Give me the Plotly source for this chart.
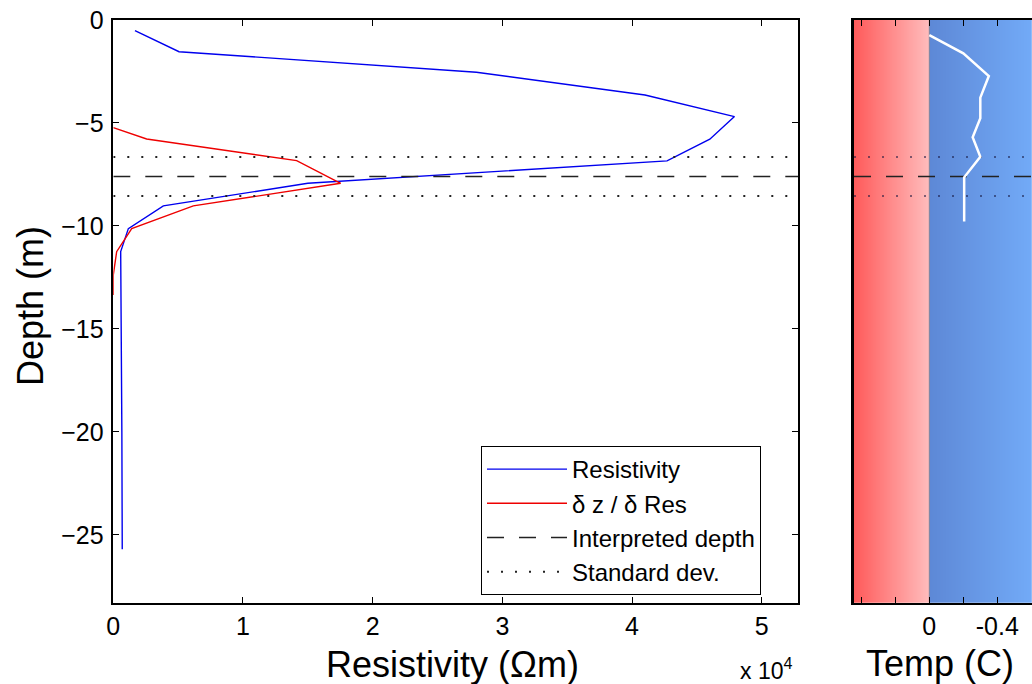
import numpy as np
import plotly.graph_objects as go

# ---------------- data ----------------
res_depth = [-0.52, -1.54, -2.54, -3.64, -4.69, -5.79, -6.84, -7.93, -9.03, -10.13, -11.25, -15.0, -20.0, -25.7]
res_value = [1670, 5070, 28000, 41000, 47900, 46000, 42700, 15000, 3860, 1160, 570, 620, 660, 690]

drv_depth = [-5.23, -5.78, -6.83, -7.93, -9.03, -10.13, -11.25, -12.38, -13.35]
drv_value = [0, 2570, 14140, 17530, 6170, 1420, 260, 0, 0]

temp_depth = [-0.73, -1.62, -2.72, -3.77, -4.77, -5.69, -6.64, -7.64, -9.79]
temp_value = [0.0, -0.20, -0.35, -0.30, -0.30, -0.255, -0.30, -0.205, -0.205]

interp_depth = -7.6
std_depths = [-6.65, -8.55]

res_range = [0, 52800]
depth_range = [-28.3, 0]
temp_range = [0.443, -0.604]

res_tickvals = [0, 10000, 20000, 30000, 40000, 50000]
res_ticktext = ["0", "1", "2", "3", "4", "5"]
depth_tickvals = [0, -5, -10, -15, -20, -25]
temp_tickvals = [0.4, 0.2, 0.0, -0.2, -0.4, -0.6]
temp_ticktext = ["", "", "0", "", "-0.4", ""]

W, H = 1032, 684
FONT = "Arial, Liberation Sans, sans-serif"

fig = go.Figure()

# -------- right panel background gradient --------
xs = np.linspace(temp_range[0], temp_range[1], 400)
f0 = (temp_range[0] - 0) / (temp_range[0] - temp_range[1])
zrow = (temp_range[0] - xs) / (temp_range[0] - temp_range[1])
fig.add_trace(go.Heatmap(
    x=xs, y=[depth_range[0] - 1, depth_range[1] + 1], z=[zrow, zrow],
    colorscale=[[0, "#ff5a5a"], [f0, "#ffbcbc"], [f0 + 1e-6, "#5d88d6"], [1, "#72aaf7"]],
    zmin=0, zmax=1, showscale=False, hoverinfo="skip",
    xaxis="x2", yaxis="y2",
))
# zero line in right panel
fig.add_trace(go.Scatter(x=[0, 0], y=depth_range, mode="lines",
                         line=dict(color="#8a8a9a", width=1), showlegend=False,
                         hoverinfo="skip", xaxis="x2", yaxis="y2"))

# -------- left panel --------
fig.add_trace(go.Scatter(x=res_value, y=res_depth, mode="lines", name="Resistivity",
                         line=dict(color="#0000ee", width=1.4)))
fig.add_trace(go.Scatter(x=drv_value, y=drv_depth, mode="lines", name="δ z / δ Res",
                         line=dict(color="#ee0000", width=1.4)))
fig.add_trace(go.Scatter(x=res_range, y=[interp_depth, interp_depth], mode="lines",
                         name="Interpreted depth",
                         line=dict(color="#222222", width=1.5, dash="17px,15px")))
for i, d in enumerate(std_depths):
    fig.add_trace(go.Scatter(x=res_range, y=[d, d], mode="lines", name="Standard dev.",
                             showlegend=(i == 0),
                             line=dict(color="#222222", width=2, dash="2px,12px")))

# -------- right panel lines --------
fig.add_trace(go.Scatter(x=temp_range, y=[interp_depth, interp_depth], mode="lines",
                         showlegend=False, line=dict(color="#222222", width=1.5, dash="17px,15px"),
                         xaxis="x2", yaxis="y2"))
for d in std_depths:
    fig.add_trace(go.Scatter(x=temp_range, y=[d, d], mode="lines", showlegend=False,
                             line=dict(color="rgba(20,20,60,0.55)", width=2, dash="2px,12px"),
                             xaxis="x2", yaxis="y2"))
fig.add_trace(go.Scatter(x=temp_value, y=temp_depth, mode="lines", showlegend=False,
                         line=dict(color="white", width=2.5), xaxis="x2", yaxis="y2"))

ydom = [1 - 602.7 / H, 1 - 20 / H]
axis_common = dict(showline=True, linecolor="black", ticks="inside", ticklen=6,
                   tickcolor="black", mirror="ticks", showgrid=False, zeroline=False,
                   automargin=False,
                   tickfont=dict(family=FONT, size=25, color="black"))

fig.update_layout(
    width=W, height=H,
    margin=dict(l=0, r=0, t=0, b=0, pad=0),
    paper_bgcolor="white", plot_bgcolor="white",
    font=dict(family=FONT, color="black"),
    xaxis=dict(domain=[113.3 / W, 798 / W], range=res_range, tickvals=res_tickvals,
               ticktext=res_ticktext, linewidth=1.5, ticklabelstandoff=1, **axis_common),
    yaxis=dict(domain=ydom, range=depth_range, tickvals=depth_tickvals, linewidth=1.5,
               ticklabelstandoff=3, layer="below traces", **axis_common),
    xaxis2=dict(domain=[854 / W, 1.0], range=temp_range, tickvals=temp_tickvals,
                ticktext=temp_ticktext, anchor="y2", linewidth=1.5, ticklabelstandoff=1,
                **axis_common),
    yaxis2=dict(domain=ydom, matches="y", anchor="x2", showline=True, linecolor="black",
                linewidth=2.5, showticklabels=False, ticks="", showgrid=False,
                zeroline=False, automargin=False),
    legend=dict(x=481 / W, y=1 - 446 / H, xanchor="left", yanchor="top",
                bordercolor="black", borderwidth=1, bgcolor="white",
                font=dict(family=FONT, size=24, color="black"),
                itemwidth=80),
    showlegend=True,
    annotations=[
        dict(text="Resistivity (Ωm)", x=452 / W, y=1 - 664 / H, xref="paper", yref="paper",
             xanchor="center", yanchor="middle",
             showarrow=False, font=dict(family=FONT, size=36)),
        dict(text="Depth (m)", x=30 / W, y=1 - 306 / H, xref="paper", yref="paper",
             xanchor="center", yanchor="middle",
             showarrow=False, textangle=-90, font=dict(family=FONT, size=36)),
        dict(text="Temp (C)", x=940 / W, y=1 - 663 / H, xref="paper", yref="paper",
             xanchor="center", yanchor="middle",
             showarrow=False, font=dict(family=FONT, size=36)),
        dict(text="x 10<sup>4</sup>", x=766 / W, y=1 - 669 / H, xref="paper", yref="paper",
             xanchor="center", yanchor="middle",
             showarrow=False, font=dict(family=FONT, size=23)),
    ],
)

fig.write_html("out.html")
